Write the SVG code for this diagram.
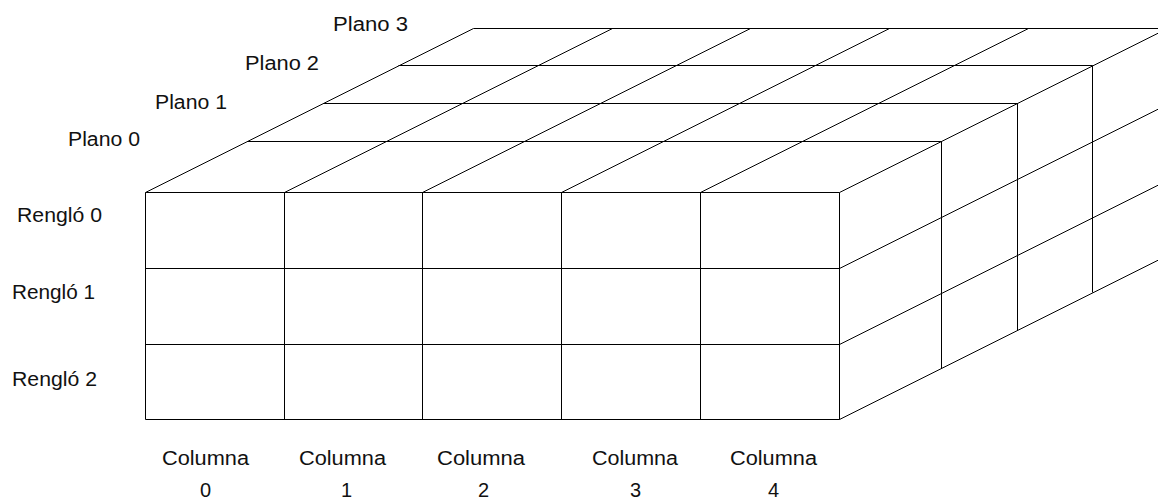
<svg xmlns="http://www.w3.org/2000/svg" width="1158" height="504" viewBox="0 0 1158 504">
  <style>
    .ln { stroke: #000; stroke-width: 1; fill: none; }
    .lbl { font-family: "Liberation Sans", Arial, sans-serif; font-size: 20px; fill: #111; }
  </style>
  <rect x="0" y="0" width="1158" height="504" fill="#fff"/>

  <!-- front face: 5 columns x 3 rows -->
  <g id="front-face" class="ln">
    <line x1="145.5" y1="192.5" x2="839.5" y2="192.5"/>
    <line x1="145.5" y1="268.5" x2="839.5" y2="268.5"/>
    <line x1="145.5" y1="344.5" x2="839.5" y2="344.5"/>
    <line x1="145.5" y1="419.5" x2="839.5" y2="419.5"/>
    <line x1="145.5" y1="192.5" x2="145.5" y2="419.5"/>
    <line x1="284.5" y1="192.5" x2="284.5" y2="419.5"/>
    <line x1="422.5" y1="192.5" x2="422.5" y2="419.5"/>
    <line x1="561.5" y1="192.5" x2="561.5" y2="419.5"/>
    <line x1="700.5" y1="192.5" x2="700.5" y2="419.5"/>
    <line x1="839.5" y1="192.5" x2="839.5" y2="419.5"/>
  </g>

  <!-- top face: plane edges and column receding lines -->
  <g id="top-face" class="ln">
    <line x1="247.5" y1="141.5" x2="941.5" y2="141.5"/>
    <line x1="323.5" y1="103.5" x2="1017.5" y2="103.5"/>
    <line x1="398.5" y1="65.5" x2="1092.5" y2="65.5"/>
    <line x1="473.5" y1="28.5" x2="1167.5" y2="28.5"/>
    <line x1="145.5" y1="192.5" x2="473.5" y2="28.5"/>
    <line x1="284.5" y1="192.5" x2="612.5" y2="28.5"/>
    <line x1="422.5" y1="192.5" x2="750.5" y2="28.5"/>
    <line x1="561.5" y1="192.5" x2="889.5" y2="28.5"/>
    <line x1="700.5" y1="192.5" x2="1028.5" y2="28.5"/>
    <line x1="839.5" y1="192.5" x2="1167.5" y2="28.5"/>
  </g>

  <!-- right side face: row receding lines and plane verticals -->
  <g id="side-face" class="ln">
    <line x1="839.5" y1="268.5" x2="1167.5" y2="104.5"/>
    <line x1="839.5" y1="344.5" x2="1167.5" y2="180.5"/>
    <line x1="839.5" y1="419.5" x2="1167.5" y2="255.5"/>
    <line x1="941.5" y1="141.5" x2="941.5" y2="368.5"/>
    <line x1="1017.5" y1="103.5" x2="1017.5" y2="330.5"/>
    <line x1="1092.5" y1="65.5" x2="1092.5" y2="292.5"/>
  </g>

  <!-- plane labels -->
  <g id="plane-labels" class="lbl">
    <text x="333" y="31" textLength="75" lengthAdjust="spacingAndGlyphs">Plano 3</text>
    <text x="245" y="70" textLength="74" lengthAdjust="spacingAndGlyphs">Plano 2</text>
    <text x="155" y="109" textLength="72" lengthAdjust="spacingAndGlyphs">Plano 1</text>
    <text x="68" y="146" textLength="72" lengthAdjust="spacingAndGlyphs">Plano 0</text>
  </g>

  <!-- row labels -->
  <g id="row-labels" class="lbl">
    <text x="17" y="222" textLength="85" lengthAdjust="spacingAndGlyphs">Rengló 0</text>
    <text x="12" y="299" textLength="83" lengthAdjust="spacingAndGlyphs">Rengló 1</text>
    <text x="12" y="386" textLength="85" lengthAdjust="spacingAndGlyphs">Rengló 2</text>
  </g>

  <!-- column labels -->
  <g id="column-labels" class="lbl">
    <text x="162" y="465" textLength="87" lengthAdjust="spacingAndGlyphs">Columna</text>
    <text x="299" y="465" textLength="87" lengthAdjust="spacingAndGlyphs">Columna</text>
    <text x="437" y="465" textLength="88" lengthAdjust="spacingAndGlyphs">Columna</text>
    <text x="592" y="465" textLength="86" lengthAdjust="spacingAndGlyphs">Columna</text>
    <text x="730" y="465" textLength="87" lengthAdjust="spacingAndGlyphs">Columna</text>
    <text x="200" y="497">0</text>
    <text x="341" y="497">1</text>
    <text x="478" y="497">2</text>
    <text x="630" y="497">3</text>
    <text x="768" y="497">4</text>
  </g>
</svg>
